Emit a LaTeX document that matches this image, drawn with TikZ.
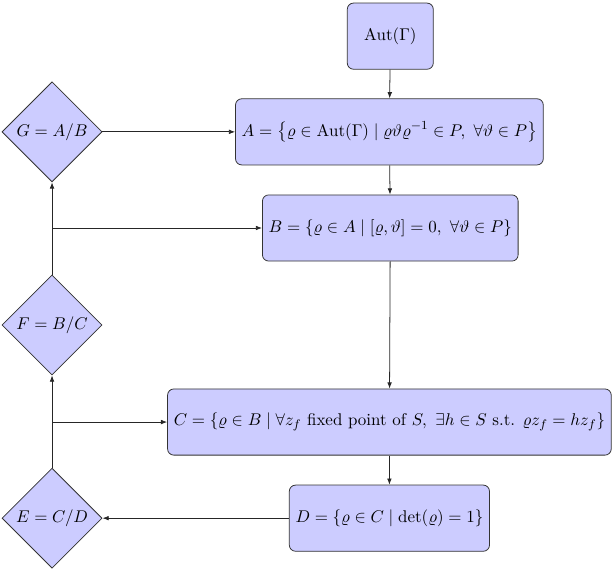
\documentclass[tikz,11pt,border=0pt]{standalone}
\usepackage{amsmath}
\usepackage{amssymb}
\usepackage{tikz}
\usetikzlibrary{
  arrows.meta,       % Latex 箭头
  shapes.geometric,  % diamond 节点
  positioning        % 节点相对定位
}
\tikzset{
  set box/.style={
    rectangle,
    rounded corners=4pt,
    draw=black!80,
    fill=blue!20,
    minimum width=1.95cm,
    minimum height=1.5cm,
    inner sep=4pt
  },
  quotient/.style={
    diamond,
    aspect=1,
    draw=black!80,
    fill=blue!20,
    inner sep=0pt,
    minimum size=2.27cm
  },
  link/.style={
    -{Latex[length=4pt,width=3pt]},
    draw=black!85
  }
}

\begin{document}
\begin{tikzpicture}[line width=0.5pt]

  % 画布范围
  \useasboundingbox (0,0) rectangle (13.9,-13.0);

  % ======================= 右列：集合 =======================
  \node[set box] (aut) at (8.85,-0.82) {$\mathrm{Aut}(\Gamma)$};
  \node[set box] (A) at (8.83,-2.99)
    {$A=\bigl\{\varrho\in\mathrm{Aut}(\Gamma)\mid\varrho\vartheta\varrho^{-1}\in P,\ \forall\vartheta\in P\bigr\}$};
  \node[set box] (B) at (8.85,-5.17)
    {$B=\{\varrho\in A\mid[\varrho,\vartheta]=0,\ \forall\vartheta\in P\}$};
  \node[set box] (C) at (8.83,-9.57)
    {$C=\{\varrho\in B\mid\forall z_f\text{ fixed point of }S,\ \exists h\in S\text{ s.t. }\varrho z_f=hz_f\}$};
  \node[set box] (D) at (8.83,-11.75)
    {$D=\{\varrho\in C\mid\det(\varrho)=1\}$};

  % ======================= 左列：商群 =======================
  \node[quotient] (G) at (1.18,-2.99) {$G=A/B$};
  \node[quotient] (F) at (1.18,-7.37) {$F=B/C$};
  \node[quotient] (E) at (1.18,-11.75) {$E=C/D$};

  % 分支点
  \coordinate (bsplit) at (F |- B);
  \coordinate (csplit) at (E |- C);

  % ======================= 连线 =======================
  \draw[link] (aut) -- (A);
  \draw[link] (A) -- (B);
  \draw[link] (B) -- (C);
  \draw[link] (C) -- (D);
  \draw[link] (G) -- (A);
  \draw[link] (D) -- (E);
  \draw[link] (E) -- (F);
  \draw[link] (F) -- (G);
  \draw[link] (bsplit) -- (B);
  \draw[link] (csplit) -- (C);

\end{tikzpicture}
\end{document}
